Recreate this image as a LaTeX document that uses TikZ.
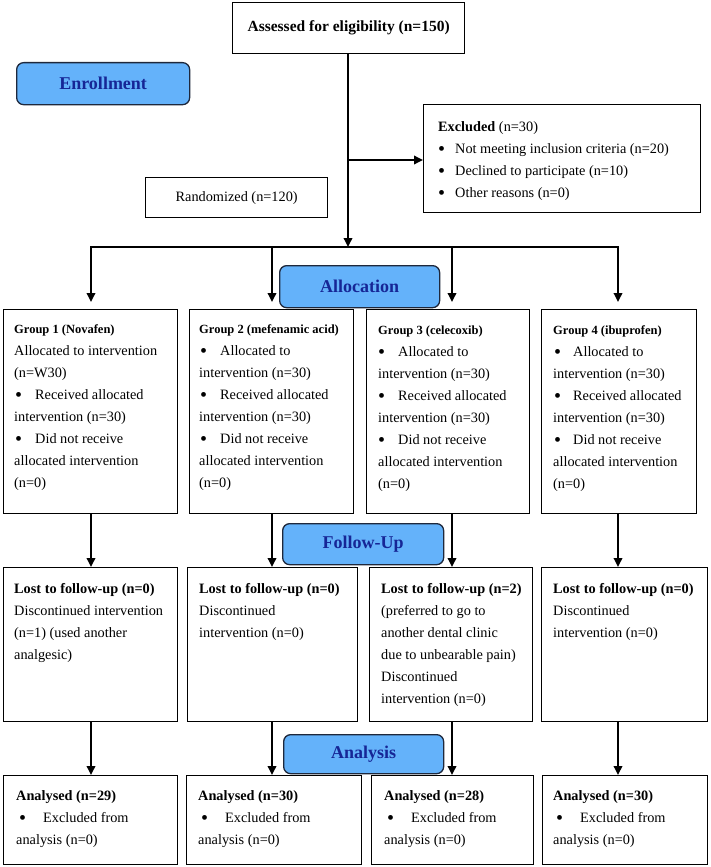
\documentclass[tikz,border=0pt]{standalone}
\usepackage{fontspec}
\setmainfont{Liberation Serif}
\usetikzlibrary{arrows.meta}
\definecolor{phaseblue}{RGB}{100,178,250}
\definecolor{phaseborder}{RGB}{30,40,60}
\definecolor{phasetext}{RGB}{22,38,150}
\newcommand\regtext{\fontsize{14.3}{22}\selectfont}
\newcommand\ghead[1]{{\fontsize{12.5}{22}\selectfont\bfseries #1}}
\newcommand\bl[2]{\makebox[#2][l]{\hspace{#1}\raisebox{-2.2pt}{\fontsize{20}{22}\selectfont •}}}
\newcommand\tb[1]{\parbox[t]{300pt}{\raggedright #1}}
\tikzset{
  box/.style={draw=black, line width=1.3pt, fill=white, inner sep=0pt, anchor=north west},
  phase/.style={draw=phaseborder, line width=1.3pt, fill=phaseblue, rounded corners=7pt,
    inner sep=0pt, anchor=north west, text=phasetext, font=\fontsize{18}{20}\selectfont\bfseries},
  txt/.style={inner sep=0pt, anchor=base west, font=\regtext},
  arr/.style={line width=1.8pt, -{Triangle[length=9pt,width=8.5pt]}},
  ln/.style={line width=1.8pt, line cap=rect}
}
\begin{document}
\begin{tikzpicture}[x=1pt,y=-1pt]
\useasboundingbox[fill=white] (0,0) rectangle (710,867);

% column x positions
\coordinate (c1) at (91,0);
\coordinate (c2) at (272,0);
\coordinate (c3) at (452,0);
\coordinate (c4) at (618,0);

% top
\node[box, minimum width=232pt, minimum height=51pt, font=\fontsize{15.5}{18}\selectfont\bfseries] (assess) at (232,2) {Assessed for eligibility (n=150)};
\node[phase, minimum width=173pt, minimum height=42pt] (enroll) at (16,62) {Enrollment};
\node[box, minimum width=277pt, minimum height=108pt] (excl) at (423,104) {};
\node[txt] (exclt) at (438,131) {\tb{\textbf{Excluded} (n=30)\\
\bl{0pt}{17pt}Not meeting inclusion criteria (n=20)\\
\bl{0pt}{17pt}Declined to participate (n=10)\\
\bl{0pt}{17pt}Other reasons (n=0)}};
\node[box, minimum width=182pt, minimum height=40pt, font=\regtext] (rand) at (145,177) {Randomized (n=120)};

\coordinate (hub) at (348,247);
\coordinate (exo) at (348,160);
\coordinate (hl) at (c1 |- hub);
\coordinate (hr) at (c4 |- hub);

% allocation
\node[phase, minimum width=160pt, minimum height=42pt] (alloc) at (279,265) {Allocation};
\node[box, minimum width=174pt, minimum height=204pt] (g1) at (3,309) {};
\node[box, minimum width=164pt, minimum height=204pt] (g2) at (189,309) {};
\node[box, minimum width=163pt, minimum height=204pt] (g3) at (366,309) {};
\node[box, minimum width=155pt, minimum height=204pt] (g4) at (541,309) {};

\node[txt] (g1t) at (14,333) {\tb{\ghead{Group 1 (Novafen)}\\
Allocated to intervention\\
(n=W30)\\
\bl{1pt}{21pt}Received allocated\\
intervention (n=30)\\
\bl{1pt}{21pt}Did not receive\\
allocated intervention\\
(n=0)}};
\node[txt] (g2t) at (199,333) {\tb{\ghead{Group 2 (mefenamic acid)}\\
\bl{1pt}{21pt}Allocated to\\
intervention (n=30)\\
\bl{1pt}{21pt}Received allocated\\
intervention (n=30)\\
\bl{1pt}{21pt}Did not receive\\
allocated intervention\\
(n=0)}};
\node[txt] (g3t) at (378,334) {\tb{\ghead{Group 3 (celecoxib)}\\
\bl{0pt}{20pt}Allocated to\\
intervention (n=30)\\
\bl{0pt}{20pt}Received allocated\\
intervention (n=30)\\
\bl{0pt}{20pt}Did not receive\\
allocated intervention\\
(n=0)}};
\node[txt] (g4t) at (553,334) {\tb{\ghead{Group 4 (ibuprofen)}\\
\bl{1pt}{20pt}Allocated to\\
intervention (n=30)\\
\bl{1pt}{20pt}Received allocated\\
intervention (n=30)\\
\bl{1pt}{20pt}Did not receive\\
allocated intervention\\
(n=0)}};

% follow-up
\node[phase, minimum width=161pt, minimum height=41pt] (follow) at (282,523) {Follow-Up};
\node[box, minimum width=174pt, minimum height=154pt] (f1) at (3,567) {};
\node[box, minimum width=170pt, minimum height=154pt] (f2) at (187,567) {};
\node[box, minimum width=163pt, minimum height=154pt] (f3) at (369,567) {};
\node[box, minimum width=166pt, minimum height=154pt] (f4) at (541,567) {};

\node[txt] (f1t) at (14,593) {\tb{\textbf{Lost to follow-up (n=0)}\\
Discontinued intervention\\
(n=1) (used another\\
analgesic)}};
\node[txt] (f2t) at (199,593) {\tb{\textbf{Lost to follow-up (n=0)}\\
Discontinued\\
intervention (n=0)}};
\node[txt] (f3t) at (381,593) {\tb{\textbf{Lost to follow-up (n=2)}\\
(preferred to go to\\
another dental clinic\\
due to unbearable pain)\\
Discontinued\\
intervention (n=0)}};
\node[txt] (f4t) at (553,593) {\tb{\textbf{Lost to follow-up (n=0)}\\
Discontinued\\
intervention (n=0)}};

% analysis
\node[phase, minimum width=160pt, minimum height=39pt] (analysis) at (283,734) {Analysis};
\node[box, minimum width=174pt, minimum height=89pt] (a1) at (3,775) {};
\node[box, minimum width=175pt, minimum height=89pt] (a2) at (186,775) {};
\node[box, minimum width=162pt, minimum height=89pt] (a3) at (371,775) {};
\node[box, minimum width=165pt, minimum height=89pt] (a4) at (542,775) {};

\node[txt] (a1t) at (16,800) {\tb{\textbf{Analysed (n=29)}\\
\bl{3pt}{27pt}Excluded from\\
analysis (n=0)}};
\node[txt] (a2t) at (198,800) {\tb{\textbf{Analysed (n=30)}\\
\bl{3pt}{27pt}Excluded from\\
analysis (n=0)}};
\node[txt] (a3t) at (384,800) {\tb{\textbf{Analysed (n=28)}\\
\bl{3pt}{27pt}Excluded from\\
analysis (n=0)}};
\node[txt] (a4t) at (553,800) {\tb{\textbf{Analysed (n=30)}\\
\bl{3pt}{27pt}Excluded from\\
analysis (n=0)}};

% connectors
\draw[arr] (exo |- assess.south) -- (hub);
\draw[arr] (exo) -- (excl.west |- exo);
\draw[ln] (hl) -- (hr);
\draw[arr, shorten >=7pt] (hl) -- (c1 |- g1.north);
\draw[arr, shorten >=7pt] (c2 |- hub) -- (c2 |- g2.north);
\draw[arr, shorten >=7pt] (c3 |- hub) -- (c3 |- g3.north);
\draw[arr, shorten >=7pt] (hr) -- (c4 |- g4.north);

\draw[arr] (c1 |- g1.south) -- (c1 |- f1.north);
\draw[arr] (c2 |- g2.south) -- (c2 |- f2.north);
\draw[arr] (c3 |- g3.south) -- (c3 |- f3.north);
\draw[arr] (c4 |- g4.south) -- (c4 |- f4.north);

\draw[arr] (c1 |- f1.south) -- (c1 |- a1.north);
\draw[arr] (c2 |- f2.south) -- (c2 |- a2.north);
\draw[arr] (c3 |- f3.south) -- (c3 |- a3.north);
\draw[arr] (c4 |- f4.south) -- (c4 |- a4.north);
\end{tikzpicture}
\end{document}
